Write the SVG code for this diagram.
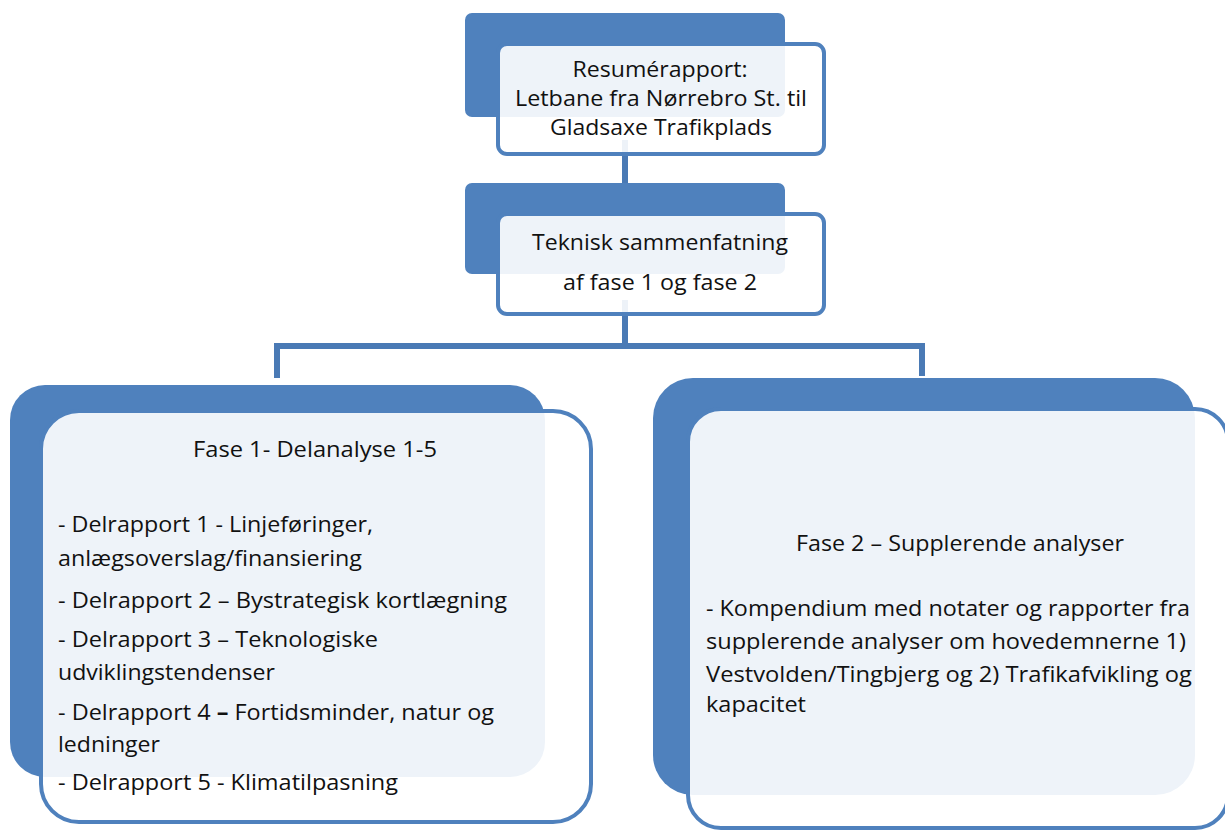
<svg xmlns="http://www.w3.org/2000/svg" width="1225" height="835" viewBox="0 0 1225 835">
<style>
.back{fill:#4F81BD}
.front{fill:#FFFFFF;fill-opacity:0.9;stroke:#4F81BD;stroke-width:4}
.conn{fill:none;stroke:#4A7AB5;stroke-width:6}
text{font-family:"Open Sans","Liberation Sans",sans-serif;font-size:21px;fill:#111111}
.c{text-anchor:middle}
</style>
<rect width="1225" height="835" fill="#FFFFFF"/>
<g id="connectors">
<path class="conn" d="M625,140 V184"/>
<path class="conn" d="M625,300 V346"/>
<path class="conn" d="M277,378 V346 H922 V376"/>
</g>
<g id="resume">
<rect class="back" x="465" y="13" width="320" height="104" rx="7"/>
<rect class="front" x="498" y="44" width="326" height="110" rx="9"/>
<text class="c" x="660" y="77" textLength="175" lengthAdjust="spacingAndGlyphs">Resumérapport:</text>
<text class="c" x="661" y="106" textLength="292" lengthAdjust="spacingAndGlyphs">Letbane fra Nørrebro St. til</text>
<text class="c" x="661" y="135" textLength="222" lengthAdjust="spacingAndGlyphs">Gladsaxe Trafikplads</text>
</g>
<g id="teknisk">
<rect class="back" x="465" y="183" width="320" height="91" rx="7"/>
<rect class="front" x="498" y="214" width="326" height="100" rx="9"/>
<text class="c" x="660" y="250" textLength="256" lengthAdjust="spacingAndGlyphs">Teknisk sammenfatning</text>
<text class="c" x="660" y="290" textLength="194" lengthAdjust="spacingAndGlyphs">af fase 1 og fase 2</text>
</g>
<g id="fase1">
<rect class="back" x="10" y="385" width="535" height="392" rx="35"/>
<rect class="front" x="41" y="411" width="550" height="411" rx="38"/>
<text class="c" x="315" y="457" textLength="244" lengthAdjust="spacingAndGlyphs">Fase 1- Delanalyse 1-5</text>
<text x="58" y="532" textLength="315" lengthAdjust="spacingAndGlyphs">- Delrapport 1 - Linjeføringer,</text>
<text x="58" y="566" textLength="304" lengthAdjust="spacingAndGlyphs">anlægsoverslag/finansiering</text>
<text x="58" y="608" textLength="449" lengthAdjust="spacingAndGlyphs">- Delrapport 2 – Bystrategisk kortlægning</text>
<text x="58" y="647" textLength="320" lengthAdjust="spacingAndGlyphs">- Delrapport 3 – Teknologiske</text>
<text x="58" y="680" textLength="217" lengthAdjust="spacingAndGlyphs">udviklingstendenser</text>
<text x="58" y="720" textLength="436" lengthAdjust="spacingAndGlyphs">- Delrapport 4 <tspan font-weight="bold">–</tspan> Fortidsminder, natur og</text>
<text x="58" y="752" textLength="102" lengthAdjust="spacingAndGlyphs">ledninger</text>
<text x="58" y="790" textLength="340" lengthAdjust="spacingAndGlyphs">- Delrapport 5 - Klimatilpasning</text>
</g>
<g id="fase2">
<rect class="back" x="653" y="378" width="542" height="417" rx="40"/>
<rect class="front" x="688" y="409" width="540" height="419" rx="33"/>
<text class="c" x="960" y="551" textLength="328" lengthAdjust="spacingAndGlyphs">Fase 2 – Supplerende analyser</text>
<text x="706" y="616" textLength="484" lengthAdjust="spacingAndGlyphs">- Kompendium med notater og rapporter fra</text>
<text x="706" y="649" textLength="480" lengthAdjust="spacingAndGlyphs">supplerende analyser om hovedemnerne 1)</text>
<text x="706" y="682" textLength="486" lengthAdjust="spacingAndGlyphs">Vestvolden/Tingbjerg og 2) Trafikafvikling og</text>
<text x="706" y="712" textLength="100" lengthAdjust="spacingAndGlyphs">kapacitet</text>
</g>
</svg>
